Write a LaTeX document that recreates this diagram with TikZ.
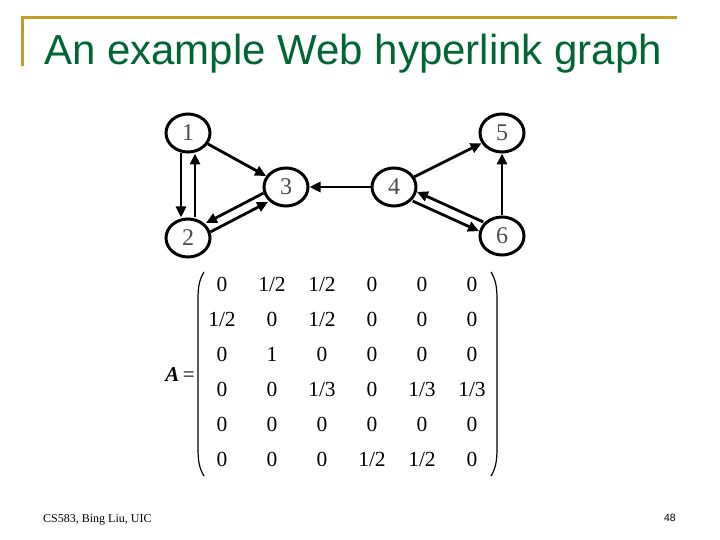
\documentclass[tikz,border=0pt]{standalone}
\usepackage{fontspec}
\setmainfont{Liberation Serif}
\newfontfamily\titlefont{Liberation Sans}
\usetikzlibrary{positioning, arrows.meta, shapes.geometric, matrix}
\definecolor{titlegreen}{RGB}{0,102,51}
\definecolor{rulegold}{RGB}{196,156,40}

\tikzset{
  page/.style={x=1pt, y=-1pt},
  vertex/.style={ellipse, draw, line width=3pt, minimum width=44pt, minimum height=38pt,
    inner sep=0pt, font=\fontsize{24}{24}\selectfont, text=black!70},
  link/.style={-{Triangle[length=11pt, width=10pt]}, line width=2.8pt},
  paren/.style={line width=1.2pt},
}

\begin{document}
\begin{tikzpicture}[page]
    \useasboundingbox (0,0) rectangle (720,540);

    % Title bar
    \draw[rulegold, line width=3pt] (22,66) -- (22,18) -- (677,18);
    \node[anchor=base west, inner sep=0pt, text=titlegreen,
      font=\titlefont\fontsize{42}{50}\selectfont] (title) at (44,65) {An example Web hyperlink graph};

    % Pages
    \node[vertex] (n1) at (188,133) {1};
    \node[vertex] (n2) at (188,238) {2};
    \node[vertex] (n3) at (286,187) {3};
    \node[vertex] (n4) at (394,187) {4};
    \node[vertex] (n5) at (502,133) {5};
    \node[vertex] (n6) at (502,236) {6};

    % Hyperlinks
    \draw[link, transform canvas={xshift=-7pt}] (n1) -- (n2);
    \draw[link, transform canvas={xshift=7pt}] (n2) -- (n1);
    \draw[link] (n1) -- (n3);
    \draw[link, transform canvas={shift={(-2.3,-4.4)}}] (n3) -- (n2);
    \draw[link, transform canvas={shift={(2.3,4.4)}}] (n2) -- (n3);
    \draw[link] (n4) -- (n3);
    \draw[link] (n4) -- (n5);
    \draw[link, transform canvas={shift={(-2.1,4.6)}}] (n4) -- (n6);
    \draw[link, transform canvas={shift={(2.1,-4.6)}}] (n6) -- (n4);
    \draw[link] (n6) -- (n5);

    % Transition matrix
    \matrix[matrix of nodes, column sep=10pt, row sep=16.9pt,
      nodes={minimum width=40pt, inner sep=0pt, text height=14pt, text depth=4pt,
        font=\fontsize{21.5}{21.5}\selectfont}] (A) at (347,374) {
      0   & 1/2 & 1/2 & 0   & 0   & 0   \\
      1/2 & 0   & 1/2 & 0   & 0   & 0   \\
      0   & 1   & 0   & 0   & 0   & 0   \\
      0   & 0   & 1/3 & 0   & 1/3 & 1/3 \\
      0   & 0   & 0   & 0   & 0   & 0   \\
      0   & 0   & 0   & 1/2 & 1/2 & 0   \\
    };
    \draw[paren] (204,272) .. controls (199,280) and (198,288) .. (198,300)
      -- (198,448) .. controls (198,460) and (199,468) .. (204,476);
    \draw[paren] (491,272) .. controls (496,280) and (497,288) .. (497,300)
      -- (497,448) .. controls (497,460) and (496,468) .. (491,476);
    \node[anchor=base east, inner sep=0pt, font=\fontsize{21}{21}\selectfont]
      (Aeq) at (195,381) {{\bfseries\itshape A}\,=};

    % Footer
    \node[anchor=base west, inner sep=0pt, font=\fontsize{12}{14}\selectfont]
      (foot) at (43,522) {CS583, Bing Liu, UIC};
    \node[anchor=base east, inner sep=0pt, font=\titlefont\fontsize{10.5}{12}\selectfont]
      (pageno) at (676,521) {48};
\end{tikzpicture}
\end{document}
